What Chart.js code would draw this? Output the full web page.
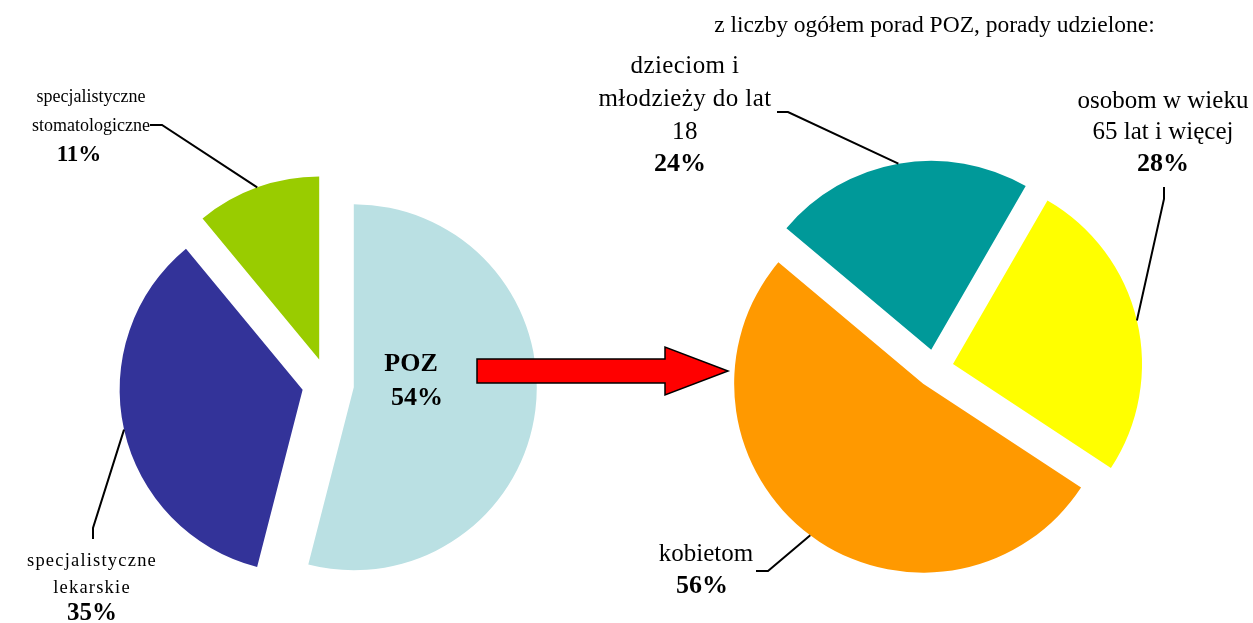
<!DOCTYPE html>
<html>
<head>
<meta charset="utf-8">
<script src="https://cdn.jsdelivr.net/npm/chart.js@4.4.1/dist/chart.umd.min.js"></script>
<style>
  body { margin: 0; background: #fff; }
  #wrap { position: relative; width: 1253px; height: 623px; }
  #wrap canvas { position: absolute; left: 0; top: 0; }
</style>
</head>
<body>
<div id="wrap">
  <canvas id="left" width="1253" height="623"></canvas>
  <canvas id="right" width="1253" height="623"></canvas>
</div>
<script>
// left pie: structure of all advice
const leftLabels = [["POZ"], ["specjalistyczne", "lekarskie"], ["specjalistyczne", "stomatologiczne"]];
const leftValues = [54, 35, 11];
const leftColors = ["#BAE0E3", "#333399", "#99CC00"];

// right pie: POZ advice given to
const rightTitle = "z liczby ogółem porad POZ, porady udzielone:";
const rightLabels = [["dzieciom i", "młodzieży do lat", "18"], ["osobom w wieku", "65 lat i więcej"], ["kobietom"]];
const rightValues = [24, 28, 56];
const rightColors = ["#009999", "#FFFF00", "#FF9900"];

const serif = '"Liberation Serif", "Times New Roman", serif';

// move every slice out from the centre along its middle angle
const explode = {
  id: 'explode',
  afterDatasetUpdate(chart, args, opts) {
    args.meta.data.forEach(arc => {
      const mid = (arc.startAngle + arc.endAngle) / 2;
      arc.x += Math.cos(mid) * opts.distance;
      arc.y += Math.sin(mid) * opts.distance;
    });
  }
};

// labels + leader lines ending on the middle of each slice's rim
const callouts = {
  id: 'callouts',
  afterDatasetsDraw(chart, args, opts) {
    const ctx = chart.ctx;
    const arcs = chart.getDatasetMeta(0).data;
    const labels = chart.data.labels;
    const values = chart.data.datasets[0].data;
    ctx.save();
    opts.items.forEach((item, i) => {
      const arc = arcs[i];
      if (item.leader) {
        const mid = (arc.startAngle + arc.endAngle) / 2;
        ctx.beginPath();
        ctx.moveTo(item.leader[0][0], item.leader[0][1]);
        ctx.lineTo(item.leader[1][0], item.leader[1][1]);
        ctx.lineTo(arc.x + Math.cos(mid) * arc.outerRadius, arc.y + Math.sin(mid) * arc.outerRadius);
        ctx.lineWidth = 2;
        ctx.strokeStyle = '#000';
        ctx.stroke();
      }
      ctx.fillStyle = '#000';
      ctx.textAlign = 'center';
      ctx.textBaseline = 'middle';
      const lines = labels[i];
      ctx.font = item.font;
      ctx.letterSpacing = (item.spacing || 0) + 'px';
      lines.forEach((t, k) => ctx.fillText(t, item.x, item.ys[k]));
      ctx.letterSpacing = '0px';
      ctx.font = item.pctFont;
      ctx.fillText(values[i] + '%', item.px || item.x, item.ys[lines.length]);
    });
    ctx.restore();
  }
};

// red block arrow between the two pies
const arrow = {
  id: 'arrow',
  afterDraw(chart) {
    const ctx = chart.ctx;
    ctx.save();
    ctx.beginPath();
    ctx.moveTo(477, 359);
    ctx.lineTo(665, 359);
    ctx.lineTo(665, 347);
    ctx.lineTo(728, 371);
    ctx.lineTo(665, 395);
    ctx.lineTo(665, 383);
    ctx.lineTo(477, 383);
    ctx.closePath();
    ctx.fillStyle = '#FF0000';
    ctx.fill();
    ctx.lineWidth = 1.5;
    ctx.strokeStyle = '#000';
    ctx.stroke();
    ctx.restore();
  }
};

const bigFont = '25px ' + serif;
const bigBold = 'bold 26px ' + serif;

new Chart(document.getElementById('left'), {
  type: 'pie',
  data: {
    labels: leftLabels,
    datasets: [{
      data: leftValues,
      backgroundColor: leftColors,
      borderWidth: 0
    }]
  },
  options: {
    responsive: false,
    devicePixelRatio: 1,
    animation: false,
    events: [],
    rotation: 0,
    radius: 183,
    layout: { padding: { left: 0, right: 597, top: 145, bottom: 0 } },
    plugins: {
      legend: { display: false },
      tooltip: { enabled: false },
      explode: { distance: 26 },
      callouts: {
        items: [
          { x: 411, px: 417, ys: [364, 398], font: 'bold 26px ' + serif, pctFont: 'bold 26px ' + serif },
          { x: 92, ys: [561, 588, 614], font: '18.5px ' + serif, spacing: 1.2, pctFont: 'bold 25px ' + serif, leader: [[93, 539], [93, 528]] },
          { x: 91, px: 79, ys: [97, 126, 155], font: '18px ' + serif, pctFont: 'bold 23px ' + serif, leader: [[150, 125], [162, 125]] }
        ]
      }
    }
  },
  plugins: [explode, callouts, arrow]
});

new Chart(document.getElementById('right'), {
  type: 'pie',
  data: {
    labels: rightLabels,
    datasets: [{
      data: rightValues,
      backgroundColor: rightColors,
      borderWidth: 0
    }]
  },
  options: {
    responsive: false,
    devicePixelRatio: 1,
    animation: false,
    events: [],
    rotation: -50,
    radius: 189,
    layout: { padding: { left: 616, right: 0, top: 0, bottom: 0 } },
    plugins: {
      legend: { display: false },
      tooltip: { enabled: false },
      title: {
        display: true,
        text: rightTitle,
        color: '#000',
        font: { family: serif, size: 23.5, weight: 'normal', lineHeight: 1.2 },
        padding: { top: 12, bottom: 73.8 }
      },
      explode: { distance: 19 },
      callouts: {
        items: [
          { x: 685, px: 680, ys: [66, 99, 132, 164], font: bigFont, spacing: 0.4, pctFont: bigBold, leader: [[777, 112], [788, 112]] },
          { x: 1163, ys: [101, 132, 164], font: bigFont, pctFont: bigBold, leader: [[1164, 187], [1164, 199]] },
          { x: 706, px: 702, ys: [554, 586], font: bigFont, pctFont: bigBold, leader: [[756, 571], [768, 571]] }
        ]
      }
    }
  },
  plugins: [explode, callouts]
});
</script>
</body>
</html>
